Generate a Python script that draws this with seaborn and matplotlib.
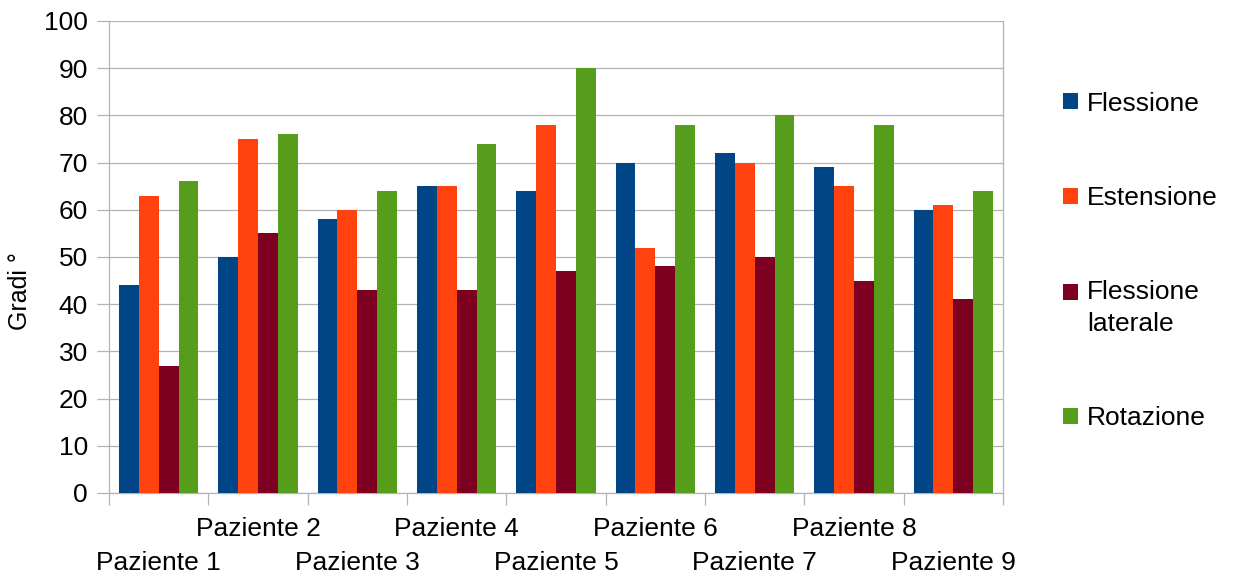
import matplotlib
matplotlib.use("Agg")
import matplotlib.pyplot as plt
from matplotlib.patches import Patch, Rectangle
from matplotlib.legend_handler import HandlerPatch
from matplotlib.ticker import FixedLocator, MultipleLocator
import pandas as pd
import seaborn as sns

# Range-of-motion measurements (degrees) per patient
pazienti = ["Paziente 1", "Paziente 2", "Paziente 3", "Paziente 4", "Paziente 5",
            "Paziente 6", "Paziente 7", "Paziente 8", "Paziente 9"]
flessione = [44, 50, 58, 65, 64, 70, 72, 69, 60]
estensione = [63, 75, 60, 65, 78, 52, 70, 65, 61]
flessione_laterale = [27, 55, 43, 43, 47, 48, 50, 45, 41]
rotazione = [66, 76, 64, 74, 90, 78, 80, 78, 64]

serie = ["Flessione", "Estensione", "Flessione laterale", "Rotazione"]
colori = ["#004586", "#ff420e", "#7e0021", "#579d1c"]

valori = {
    "Flessione": flessione,
    "Estensione": estensione,
    "Flessione laterale": flessione_laterale,
    "Rotazione": rotazione,
}
df = pd.DataFrame(
    [(p, s, valori[s][i]) for s in serie for i, p in enumerate(pazienti)],
    columns=["Paziente", "Movimento", "Gradi"],
)

sns.set_theme(style="white")
plt.rcParams["font.family"] = ["Liberation Sans", "DejaVu Sans"]

FS = 19
GRID = "#b3b3b3"

fig = plt.figure(figsize=(12.33, 5.73), dpi=100)
ax = fig.add_axes([109 / 1233, 1 - 493 / 573, 894 / 1233, 472 / 573])

sns.barplot(
    data=df, x="Paziente", y="Gradi", hue="Movimento",
    order=pazienti, hue_order=serie, palette=colori,
    saturation=1, width=0.8, linewidth=0, legend=False, ax=ax, zorder=3,
)

ax.set_xlim(-0.5, len(pazienti) - 0.5)
ax.set_ylim(0, 100)
ax.yaxis.set_major_locator(MultipleLocator(10))
ax.grid(axis="y", color=GRID, linewidth=0.9, zorder=0)
ax.grid(axis="x", visible=False)
ax.set_axisbelow(True)

for side, sp in ax.spines.items():
    sp.set_color(GRID)
    sp.set_linewidth(0.9)
ax.spines["top"].set_visible(False)

# Category labels at group centres, boundaries marked by minor ticks
ax.set_xticks(range(len(pazienti)))
ax.set_xticklabels(pazienti)
ax.xaxis.set_minor_locator(FixedLocator([i - 0.5 for i in range(len(pazienti) + 1)]))
ax.tick_params(axis="x", which="major", length=0, pad=17.5, labelsize=FS, labelcolor="black")
ax.tick_params(axis="x", which="minor", length=8.6, width=0.9, color=GRID, bottom=True)
ax.tick_params(axis="y", which="major", length=8.6, width=0.9, color=GRID, pad=6.5,
               labelsize=FS, labelcolor="black", left=True)
# stagger odd-numbered patients onto a second row
for i, tick in enumerate(ax.xaxis.get_major_ticks()):
    if i % 2 == 0:
        tick.set_pad(17.5 + 24)

ax.set_xlabel("")
ax.set_ylabel("Gradi °", fontsize=18, color="black")
ax.yaxis.label.set(ha="center", va="center")
ax.yaxis.set_label_coords((20 - 109) / 894, (493 - 291) / 472)


def square(legend, orig_handle, xdescent, ydescent, width, height, fontsize):
    shift = 0.0
    if "\n" in orig_handle.get_label():
        shift = 0.62 * fontsize
    return Rectangle((-xdescent, -ydescent + shift), width, height)


handles = [Patch(facecolor=c, edgecolor="none", label=s.replace(" ", "\n"))
           for s, c in zip(serie, colori)]
leg = fig.legend(
    handles=handles,
    loc="center left",
    bbox_to_anchor=(1063 / 1233, 1 - 261 / 573),
    frameon=False,
    fontsize=FS,
    labelcolor="black",
    handlelength=0.57,
    handleheight=0.57,
    handletextpad=0.34,
    labelspacing=2.67,
    borderpad=0,
    borderaxespad=0,
    handler_map={Patch: HandlerPatch(patch_func=square)},
)
for t in leg.get_texts():
    t.set_linespacing(1.4)

fig.savefig("out.png", dpi=100)
